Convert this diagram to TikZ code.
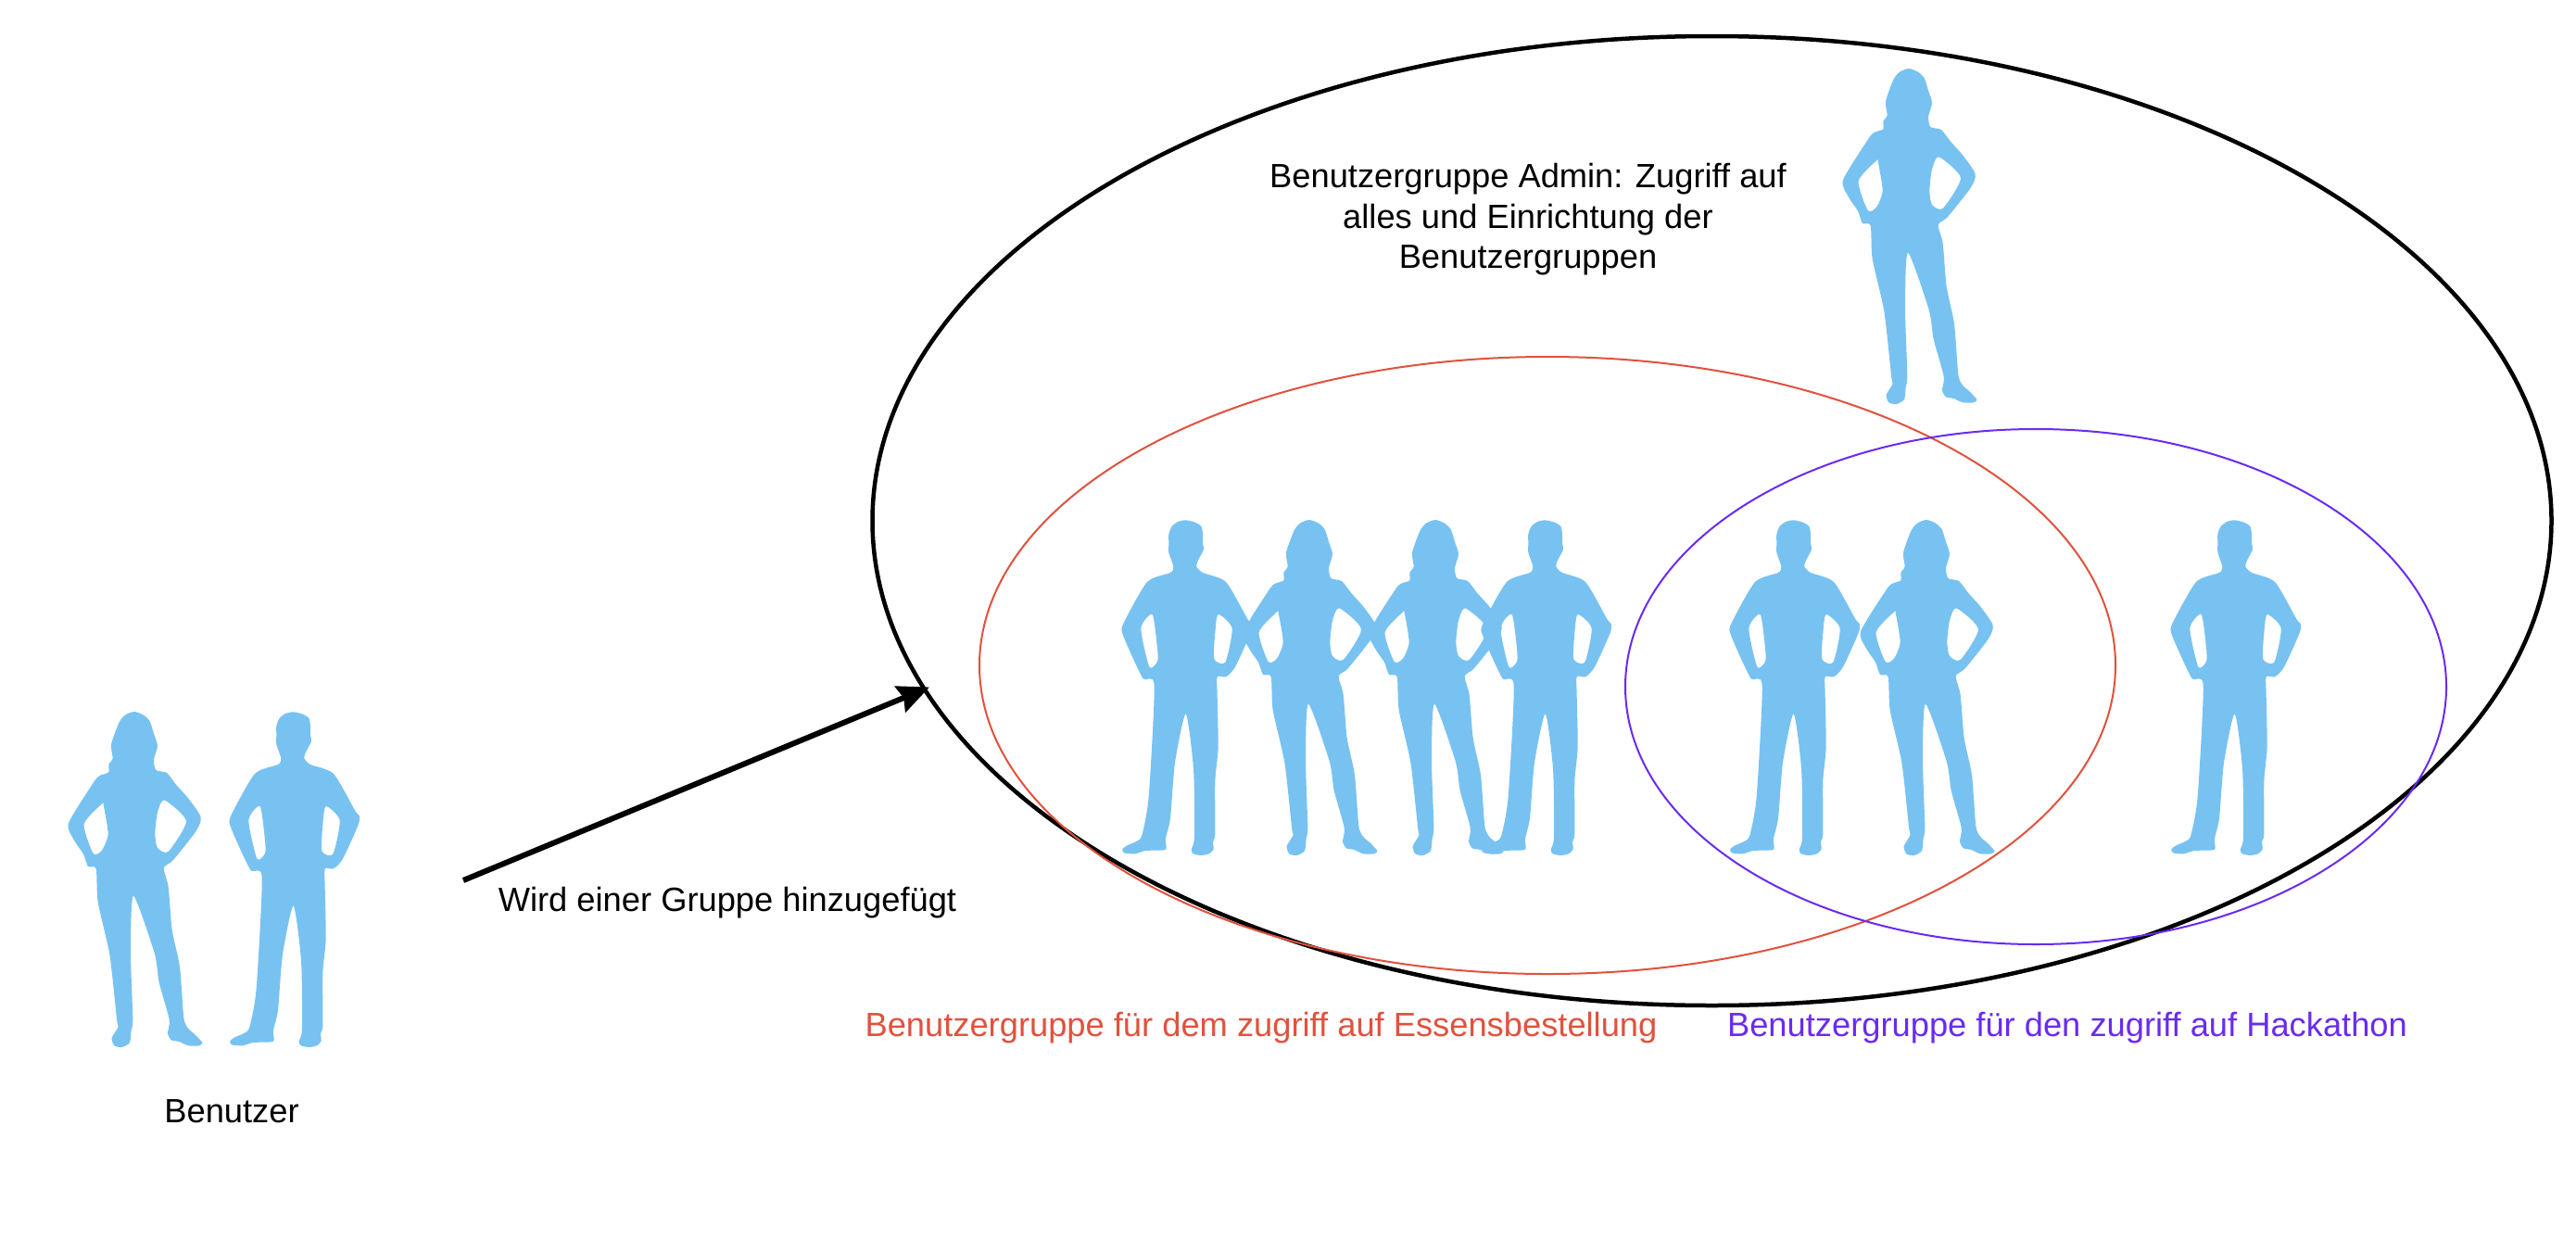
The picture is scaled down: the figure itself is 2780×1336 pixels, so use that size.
\documentclass[tikz,border=0pt]{standalone}
\usepackage{fontspec}
\setmainfont{Liberation Sans}
\usetikzlibrary{arrows.meta,shapes.geometric}
\definecolor{figblue}{HTML}{78C2F2}
\definecolor{grpred}{HTML}{E0523E}
\definecolor{grppurple}{HTML}{6A2BF0}
\tikzset{
  lab/.style={inner sep=0pt,font=\fontsize{36.3}{43.5}\selectfont,align=center,anchor=center},
  grp/.style={draw,ellipse,inner sep=0pt,fill=none,anchor=center},
  smo/.style={smooth cycle,tension=0.4}
}
\newcommand{\femalefig}[2]{%
\begin{scope}[shift={(#1+40,#2+740)},x=0.33333pt,y=-0.33333pt]
\fill[figblue,even odd rule]
 plot[smo] coordinates {(315,84)(345,95)(365,115)(378,155)(390,195)(378,240)(385,273)(420,282)(450,320)(490,365)(530,425)(515,470)(440,565)(410,590)(425,650)(437,790)(462,910)(475,1075)(490,1110)(510,1128)(535,1155)(525,1165)(490,1165)(460,1152)(435,1147)(423,1125)(428,1080)(395,960)(380,865)(312,680)(303,860)(310,1078)(305,1115)(300,1155)(275,1170)(250,1165)(242,1140)(262,1105)(258,1078)(235,870)(197,700)(191,592)(165,585)(150,545)(120,500)(102,445)(185,310)(205,290)(232,280)(232,255)(245,235)(240,190)(265,120)(285,95)}
 plot[smo] coordinates {(210,382)(152,448)(182,543)(210,533)(230,480)(215,385)}
 plot[smo] coordinates {(412,370)(483,438)(425,537)(390,525)(382,480)(390,410)};
\end{scope}}
\newcommand{\malefig}[2]{%
\begin{scope}[shift={(#1+40,#2+740)},x=0.33333pt,y=-0.33333pt]
\fill[figblue,even odd rule]
 plot[smo] coordinates {(830,85)(860,92)(880,105)(885,130)(885,160)(888,180)(870,215)(865,235)(885,255)(960,285)(1030,405)(1043,420)(1040,450)(990,560)(960,592)(932,592)(932,650)(935,820)(925,930)(925,1100)(918,1125)(920,1150)(905,1165)(880,1170)(855,1165)(848,1152)(858,1110)(855,890)(830,712)(795,870)(780,1050)(765,1115)(767,1145)(760,1153)(700,1155)(665,1165)(630,1162)(625,1150)(640,1138)(670,1125)(688,1105)(710,980)(728,620)(690,595)(628,460)(628,420)(705,285)(780,255)(790,235)(775,190)(775,160)(775,130)(785,105)(805,90)}
 plot[smo] coordinates {(722,390)(685,435)(712,560)(738,543)(738,500)}
 plot[smo] coordinates {(935,390)(980,435)(958,545)(922,535)(925,450)};
\end{scope}}
\begin{document}
\begin{tikzpicture}[x=1pt,y=-1pt]
\useasboundingbox (0,0) rectangle (2780,1336);
\fill[white] (0,0) rectangle (2780,1336);
% figures
\femalefig{0}{0}
\malefig{0}{0}
\femalefig{1915}{-694}
\malefig{963}{-207}
\femalefig{1268}{-207}
\femalefig{1404}{-207}
\malefig{1351}{-207}
\malefig{1619}{-207}
\femalefig{1934}{-207}
\malefig{2095}{-207}
% groups
\node[grp,line width=4.5pt,black,minimum width=1812pt,minimum height=1046pt] (admin) at (1847.5,562) {};
\node[grp,line width=2pt,grpred,minimum width=1226pt,minimum height=666pt] (essen) at (1670,718) {};
\node[grp,line width=2pt,grppurple,minimum width=886pt,minimum height=556pt] (hack) at (2197,741) {};
% labels
\node[lab] (tadmin) at (1649,237) {Benutzergruppe Admin: Zugriff auf\\alles und Einrichtung der\\Benutzergruppen};
\node[lab] (tuser) at (250,1199.5) {Benutzer};
\node[lab] (tadd) at (785,974) {Wird einer Gruppe hinzugefügt};
\node[lab,text=grpred] (tessen) at (1361,1109.5) {Benutzergruppe für dem zugriff auf Essensbestellung};
\node[lab,text=grppurple] (thack) at (2231,1109.5) {Benutzergruppe für den zugriff auf Hackathon};
% arrow
\coordinate (astart) at (500,950);
\coordinate (aend) at (1003,741.5);
\draw[line width=6pt,-{Stealth[length=34pt,width=30pt,inset=4pt]}] (astart) -- (aend);
\end{tikzpicture}
\end{document}
